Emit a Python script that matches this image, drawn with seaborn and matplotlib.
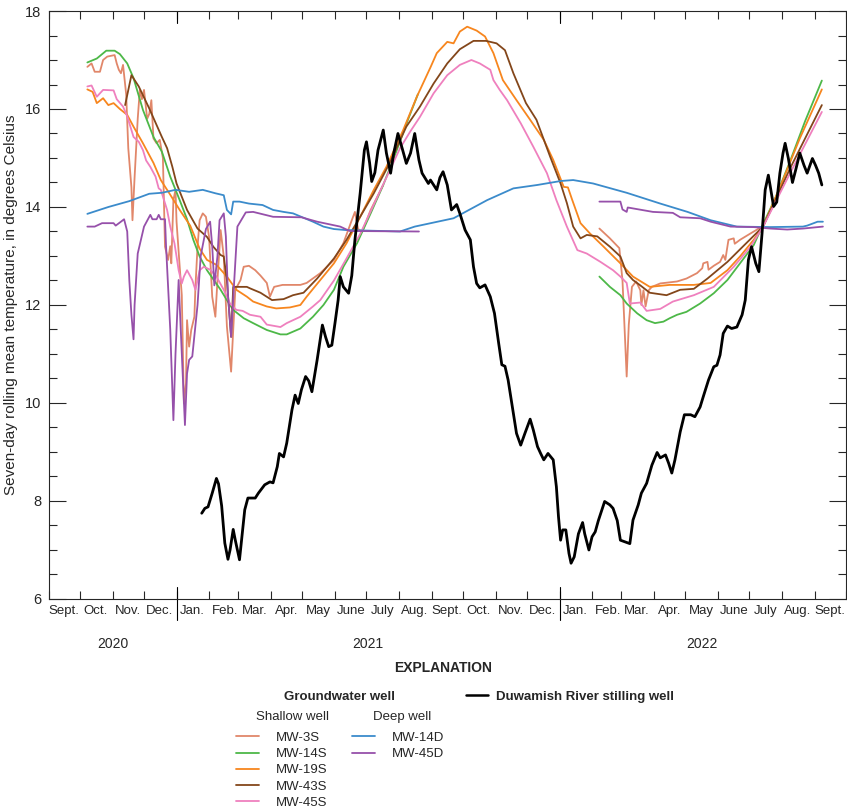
import matplotlib
matplotlib.use("Agg")
import matplotlib.pyplot as plt
import matplotlib.dates as mdates
from matplotlib.lines import Line2D
from matplotlib.ticker import MultipleLocator, FuncFormatter, NullFormatter
from matplotlib import font_manager
import pandas as pd
import seaborn as sns

# ---- MW-3S (shallow), two record periods
mw3s_dates_a = ["2020-10-08", "2020-10-12", "2020-10-15", "2020-10-20", "2020-10-23", "2020-10-27",
                "2020-11-03", "2020-11-05", "2020-11-07", "2020-11-09", "2020-11-11", "2020-11-14",
                "2020-11-16", "2020-11-19", "2020-11-20", "2020-11-22", "2020-11-25", "2020-11-27",
                "2020-11-29", "2020-12-01", "2020-12-04", "2020-12-06", "2020-12-08", "2020-12-10",
                "2020-12-13", "2020-12-16", "2020-12-19", "2020-12-21", "2020-12-24", "2020-12-26",
                "2020-12-27", "2020-12-29", "2020-12-31", "2021-01-01", "2021-01-04", "2021-01-06",
                "2021-01-08", "2021-01-10", "2021-01-11", "2021-01-13", "2021-01-15", "2021-01-18",
                "2021-01-19", "2021-01-21", "2021-01-23", "2021-01-26", "2021-01-29", "2021-02-01",
                "2021-02-04", "2021-02-07", "2021-02-09", "2021-02-12", "2021-02-15", "2021-02-18",
                "2021-02-22", "2021-02-24", "2021-02-26", "2021-03-03", "2021-03-06", "2021-03-11",
                "2021-03-17", "2021-03-22", "2021-03-28", "2021-03-31", "2021-04-04", "2021-04-12",
                "2021-04-29", "2021-05-05", "2021-05-18", "2021-05-31", "2021-06-09", "2021-06-17",
                "2021-06-20", "2021-06-23", "2021-06-27", "2021-07-05", "2021-07-17"]
mw3s_temp_a = [16.86, 16.93, 16.76, 16.76, 17.00, 17.07,
               17.10, 16.93, 16.80, 16.73, 16.90, 16.30,
               15.20, 14.40, 13.73, 14.60, 15.80, 16.39,
               16.20, 16.39, 15.80, 15.90, 16.18, 15.40,
               15.30, 15.37, 15.00, 13.19, 12.92, 13.20,
               12.85, 14.14, 14.35, 13.70, 12.78, 12.20,
               9.99, 10.40, 11.69, 11.15, 11.49, 11.76,
               12.37, 13.19, 13.73, 13.87, 13.80, 13.39,
               12.17, 11.76, 12.51, 13.53, 12.99, 11.56,
               10.64, 11.49, 12.31, 12.51, 12.78, 12.80,
               12.71, 12.60, 12.45, 12.17, 12.37, 12.41,
               12.41, 12.45, 12.65, 12.92, 13.26, 13.73,
               13.90, 13.55, 13.50, 13.94, 14.45]
mw3s_dates_b = ["2022-02-08", "2022-02-18", "2022-02-27", "2022-03-02", "2022-03-06", "2022-03-08",
                "2022-03-11", "2022-03-15", "2022-03-19", "2022-03-20", "2022-03-22", "2022-03-24",
                "2022-03-27", "2022-03-30", "2022-04-07", "2022-04-23", "2022-05-02", "2022-05-12",
                "2022-05-17", "2022-05-18", "2022-05-22", "2022-05-23", "2022-05-28", "2022-06-03",
                "2022-06-06", "2022-06-08", "2022-06-11", "2022-06-16", "2022-06-17", "2022-06-22",
                "2022-07-02", "2022-07-13", "2022-07-23"]
mw3s_temp_b = [13.56, 13.36, 13.16, 12.50, 10.54, 11.60,
               12.37, 12.48, 12.30, 12.00, 12.30, 11.97,
               12.30, 12.37, 12.44, 12.48, 12.54, 12.65,
               12.75, 12.85, 12.88, 12.72, 12.80, 12.88,
               13.02, 12.92, 13.33, 13.36, 13.25, 13.33,
               13.46, 13.60, 14.00]

# ---- MW-14S (shallow), two record periods
mw14s_dates_a = ["2020-10-08", "2020-10-17", "2020-10-26", "2020-11-03", "2020-11-08", "2020-11-15",
                 "2020-11-21", "2020-11-30", "2020-12-10", "2020-12-18", "2020-12-26", "2021-01-04",
                 "2021-01-11", "2021-01-17", "2021-01-23", "2021-01-30", "2021-02-12", "2021-02-18",
                 "2021-02-24", "2021-03-06", "2021-03-15", "2021-03-28", "2021-04-10", "2021-04-16",
                 "2021-04-29", "2021-05-11", "2021-05-21", "2021-05-31", "2021-06-09", "2021-06-22",
                 "2021-07-05", "2021-07-17", "2021-07-28", "2021-08-09", "2021-08-19"]
mw14s_temp_a = [16.95, 17.03, 17.19, 17.19, 17.12, 16.93,
                16.63, 15.98, 15.43, 15.13, 14.62, 14.14,
                13.75, 13.33, 12.99, 12.71, 12.31, 12.10,
                11.90, 11.73, 11.63, 11.49, 11.40, 11.40,
                11.52, 11.76, 12.00, 12.31, 12.78, 13.26,
                13.87, 14.45, 15.05, 15.75, 16.30]
mw14s_dates_b = ["2022-02-08", "2022-02-18", "2022-02-28", "2022-03-06", "2022-03-16", "2022-03-25",
                 "2022-04-02", "2022-04-10", "2022-04-16", "2022-04-23", "2022-05-02", "2022-05-15",
                 "2022-05-28", "2022-06-10", "2022-06-22", "2022-07-05", "2022-07-13", "2022-07-26",
                 "2022-08-09", "2022-08-23", "2022-09-08"]
mw14s_temp_b = [12.58, 12.37, 12.20, 12.03, 11.83, 11.69,
                11.63, 11.66, 11.73, 11.80, 11.86, 12.03,
                12.24, 12.51, 12.85, 13.22, 13.60, 14.20,
                14.95, 15.75, 16.58]

# ---- MW-19S (shallow)
mw19s_dates = ["2020-10-08", "2020-10-13", "2020-10-17", "2020-10-23", "2020-10-28", "2020-11-02",
               "2020-11-08", "2020-11-15", "2020-11-21", "2020-11-30", "2020-12-10", "2020-12-17",
               "2020-12-26", "2021-01-04", "2021-01-14", "2021-01-23", "2021-01-30", "2021-02-08",
               "2021-02-18", "2021-02-27", "2021-03-09", "2021-03-15", "2021-03-28", "2021-04-06",
               "2021-04-19", "2021-04-29", "2021-05-05", "2021-05-18", "2021-05-31", "2021-06-12",
               "2021-06-25", "2021-07-08", "2021-07-20", "2021-08-05", "2021-08-18", "2021-08-31",
               "2021-09-06", "2021-09-16", "2021-09-22", "2021-09-28", "2021-10-05", "2021-10-14",
               "2021-10-22", "2021-10-30", "2021-11-08", "2021-11-21", "2021-12-04", "2021-12-17",
               "2021-12-26", "2022-01-05", "2022-01-09", "2022-01-13", "2022-01-21", "2022-01-30",
               "2022-02-12", "2022-02-28", "2022-03-12", "2022-03-28", "2022-04-16", "2022-05-09",
               "2022-05-25", "2022-06-10", "2022-06-22", "2022-07-05", "2022-07-14", "2022-07-31",
               "2022-08-18", "2022-09-08"]
mw19s_temp = [16.40, 16.35, 16.12, 16.22, 16.08, 16.12,
              16.00, 15.88, 15.64, 15.30, 14.90, 14.55,
              14.25, 13.94, 13.62, 13.15, 12.92, 12.82,
              12.58, 12.31, 12.17, 12.07, 11.97, 11.93,
              11.95, 12.00, 12.17, 12.51, 12.85, 13.26,
              13.80, 14.35, 14.82, 15.57, 16.25, 16.85,
              17.14, 17.37, 17.34, 17.58, 17.68, 17.60,
              17.48, 17.14, 16.59, 16.18, 15.78, 15.37,
              14.96, 14.41, 14.40, 14.15, 13.67, 13.46,
              13.19, 12.85, 12.58, 12.37, 12.41, 12.41,
              12.45, 12.71, 12.99, 13.33, 13.60, 14.45,
              15.40, 16.40]

# ---- MW-43S (shallow)
mw43s_dates = ["2020-11-13", "2020-11-19", "2020-11-26", "2020-12-06", "2020-12-18", "2020-12-23",
               "2020-12-28", "2021-01-01", "2021-01-11", "2021-01-21", "2021-01-30", "2021-02-05",
               "2021-02-12", "2021-02-15", "2021-02-18", "2021-02-22", "2021-02-24", "2021-03-09",
               "2021-03-12", "2021-03-22", "2021-04-02", "2021-04-13", "2021-04-22", "2021-05-02",
               "2021-05-15", "2021-05-31", "2021-06-12", "2021-06-25", "2021-07-08", "2021-07-23",
               "2021-08-08", "2021-08-21", "2021-09-03", "2021-09-16", "2021-09-28", "2021-10-11",
               "2021-10-23", "2021-11-02", "2021-11-10", "2021-11-18", "2021-11-30", "2021-12-10",
               "2021-12-23", "2022-01-02", "2022-01-08", "2022-01-14", "2022-01-21", "2022-01-27",
               "2022-02-06", "2022-02-18", "2022-02-28", "2022-03-06", "2022-03-12", "2022-03-19",
               "2022-03-28", "2022-04-13", "2022-04-26", "2022-05-09", "2022-05-22", "2022-06-10",
               "2022-06-26", "2022-07-14", "2022-08-09", "2022-09-08"]
mw43s_temp = [16.08, 16.69, 16.46, 16.01, 15.43, 15.20,
              14.82, 14.48, 13.94, 13.56, 13.39, 13.19,
              13.02, 12.99, 12.50, 11.35, 12.37, 12.37,
              12.34, 12.25, 12.10, 12.12, 12.20, 12.25,
              12.54, 12.95, 13.33, 13.80, 14.28, 14.89,
              15.64, 16.05, 16.52, 16.93, 17.22, 17.39,
              17.39, 17.34, 17.20, 16.73, 16.12, 15.78,
              15.03, 14.48, 14.08, 13.60, 13.36, 13.43,
              13.40, 13.19, 12.99, 12.65, 12.51, 12.40,
              12.25, 12.20, 12.31, 12.33, 12.54, 12.88,
              13.22, 13.60, 14.80, 16.08]

# ---- MW-45S (shallow)
mw45s_dates = ["2020-10-08", "2020-10-12", "2020-10-17", "2020-10-23", "2020-11-02", "2020-11-05",
               "2020-11-11", "2020-11-15", "2020-11-21", "2020-11-26", "2020-11-30", "2020-12-03",
               "2020-12-07", "2020-12-12", "2020-12-15", "2020-12-17", "2020-12-23", "2020-12-26",
               "2020-12-30", "2021-01-01", "2021-01-03", "2021-01-06", "2021-01-08", "2021-01-11",
               "2021-01-16", "2021-01-19", "2021-01-23", "2021-01-27", "2021-02-02", "2021-02-08",
               "2021-02-15", "2021-02-21", "2021-02-27", "2021-03-05", "2021-03-12", "2021-03-22",
               "2021-03-28", "2021-04-10", "2021-04-16", "2021-04-29", "2021-05-11", "2021-05-18",
               "2021-05-31", "2021-06-12", "2021-06-25", "2021-07-08", "2021-07-20", "2021-08-02",
               "2021-08-12", "2021-08-21", "2021-09-03", "2021-09-16", "2021-09-28", "2021-10-09",
               "2021-10-17", "2021-10-27", "2021-10-30", "2021-11-05", "2021-11-12", "2021-11-25",
               "2021-12-07", "2021-12-20", "2021-12-29", "2022-01-08", "2022-01-18", "2022-01-27",
               "2022-02-09", "2022-02-21", "2022-02-28", "2022-03-06", "2022-03-09", "2022-03-19",
               "2022-03-25", "2022-04-07", "2022-04-19", "2022-05-09", "2022-05-28", "2022-06-16",
               "2022-07-02", "2022-07-14", "2022-08-09", "2022-09-08"]
mw45s_temp = [16.46, 16.48, 16.25, 16.39, 16.38, 16.20,
              16.05, 15.85, 15.43, 15.33, 15.16, 14.95,
              14.82, 14.62, 14.38, 14.35, 13.94, 13.60,
              13.26, 12.99, 12.71, 12.44, 12.58, 12.71,
              12.51, 12.31, 12.71, 12.78, 12.72, 12.58,
              12.31, 12.03, 11.90, 11.88, 11.80, 11.76,
              11.60, 11.55, 11.63, 11.76, 11.97, 12.10,
              12.50, 12.95, 13.45, 14.05, 14.60, 15.20,
              15.55, 15.84, 16.32, 16.69, 16.90, 17.00,
              16.93, 16.80, 16.59, 16.39, 16.18, 15.71,
              15.23, 14.69, 14.14, 13.60, 13.12, 13.05,
              12.88, 12.71, 12.58, 12.45, 12.03, 12.05,
              11.88, 11.92, 12.07, 12.20, 12.37, 12.78,
              13.19, 13.60, 14.70, 15.94]

# ---- MW-14D (deep)
mw14d_dates = ["2020-10-08", "2020-10-28", "2020-11-17", "2020-12-06", "2020-12-18", "2020-12-31",
               "2021-01-13", "2021-01-26", "2021-02-07", "2021-02-15", "2021-02-18", "2021-02-22",
               "2021-02-24", "2021-03-02", "2021-03-11", "2021-03-24", "2021-04-03", "2021-04-13",
               "2021-04-22", "2021-05-11", "2021-05-21", "2021-05-31", "2021-06-11", "2021-08-02",
               "2021-08-16", "2021-09-22", "2021-10-24", "2021-11-18", "2021-12-11", "2022-01-02",
               "2022-01-14", "2022-02-02", "2022-03-06", "2022-04-07", "2022-05-03", "2022-05-25",
               "2022-06-19", "2022-07-21", "2022-08-21", "2022-08-25", "2022-09-04", "2022-09-09"]
mw14d_temp = [13.86, 14.00, 14.12, 14.27, 14.29, 14.35,
              14.31, 14.35, 14.28, 14.24, 13.94, 13.85,
              14.11, 14.11, 14.07, 14.04, 13.94, 13.90,
              13.87, 13.70, 13.60, 13.55, 13.53, 13.50,
              13.60, 13.77, 14.14, 14.38, 14.45, 14.53,
              14.55, 14.48, 14.29, 14.07, 13.90, 13.73,
              13.60, 13.59, 13.60, 13.62, 13.70, 13.70]

# ---- MW-45D (deep), two record periods
mw45d_dates_a = ["2020-10-08", "2020-10-15", "2020-10-22", "2020-11-02", "2020-11-04", "2020-11-09",
                 "2020-11-12", "2020-11-15", "2020-11-17", "2020-11-19", "2020-11-21", "2020-11-22",
                 "2020-11-25", "2020-12-01", "2020-12-07", "2020-12-09", "2020-12-13", "2020-12-15",
                 "2020-12-17", "2020-12-21", "2020-12-22", "2020-12-26", "2020-12-29", "2020-12-31",
                 "2021-01-03", "2021-01-05", "2021-01-09", "2021-01-11", "2021-01-13", "2021-01-16",
                 "2021-01-21", "2021-01-24", "2021-01-29", "2021-02-02", "2021-02-04", "2021-02-06",
                 "2021-02-09", "2021-02-11", "2021-02-15", "2021-02-17", "2021-02-19", "2021-02-22",
                 "2021-02-25", "2021-02-28", "2021-03-08", "2021-03-15", "2021-04-03", "2021-04-30",
                 "2021-05-15", "2021-06-06", "2021-06-15", "2021-08-20"]
mw45d_temp_a = [13.60, 13.60, 13.67, 13.67, 13.62, 13.70,
                13.75, 13.50, 12.50, 11.80, 11.30, 12.00,
                13.05, 13.60, 13.84, 13.75, 13.75, 13.84,
                13.75, 13.75, 13.20, 11.50, 9.65, 11.00,
                12.51, 11.50, 9.55, 10.60, 10.88, 10.95,
                12.00, 13.00, 13.55, 13.70, 13.20, 12.40,
                13.00, 13.73, 13.87, 13.40, 12.20, 11.35,
                12.50, 13.60, 13.89, 13.90, 13.80, 13.79,
                13.70, 13.60, 13.51, 13.50]
mw45d_dates_b = ["2022-02-08", "2022-02-28", "2022-03-02", "2022-03-06", "2022-03-07", "2022-03-31",
                 "2022-04-19", "2022-04-26", "2022-05-15", "2022-05-25", "2022-06-13", "2022-07-05",
                 "2022-07-21", "2022-08-06", "2022-08-21", "2022-09-09"]
mw45d_temp_b = [14.11, 14.11, 13.95, 13.90, 13.99, 13.90,
                13.88, 13.79, 13.77, 13.70, 13.60, 13.59,
                13.56, 13.54, 13.56, 13.60]

# ---- Duwamish River stilling well
river_dates = ["2021-01-25", "2021-01-28", "2021-01-31", "2021-02-04", "2021-02-08", "2021-02-10",
               "2021-02-13", "2021-02-16", "2021-02-19", "2021-02-21", "2021-02-24", "2021-02-26",
               "2021-03-02", "2021-03-04", "2021-03-07", "2021-03-10", "2021-03-17", "2021-03-20",
               "2021-03-26", "2021-03-31", "2021-04-03", "2021-04-07", "2021-04-09", "2021-04-13",
               "2021-04-16", "2021-04-21", "2021-04-24", "2021-04-27", "2021-04-30", "2021-05-04",
               "2021-05-07", "2021-05-10", "2021-05-15", "2021-05-20", "2021-05-23", "2021-05-26",
               "2021-05-29", "2021-06-01", "2021-06-04", "2021-06-06", "2021-06-09", "2021-06-14",
               "2021-06-17", "2021-06-20", "2021-06-25", "2021-06-29", "2021-07-01", "2021-07-04",
               "2021-07-06", "2021-07-09", "2021-07-12", "2021-07-17", "2021-07-20", "2021-07-24",
               "2021-07-27", "2021-07-31", "2021-08-04", "2021-08-08", "2021-08-12", "2021-08-16",
               "2021-08-20", "2021-08-23", "2021-08-29", "2021-08-31", "2021-09-06", "2021-09-09",
               "2021-09-12", "2021-09-16", "2021-09-20", "2021-09-25", "2021-09-28", "2021-10-03",
               "2021-10-08", "2021-10-11", "2021-10-14", "2021-10-17", "2021-10-22", "2021-10-27",
               "2021-10-31", "2021-11-04", "2021-11-07", "2021-11-10", "2021-11-13", "2021-11-17",
               "2021-11-21", "2021-11-25", "2021-11-29", "2021-12-04", "2021-12-07", "2021-12-11",
               "2021-12-14", "2021-12-17", "2021-12-21", "2021-12-26", "2021-12-29", "2021-12-31",
               "2022-01-02", "2022-01-04", "2022-01-07", "2022-01-10", "2022-01-12", "2022-01-15",
               "2022-01-19", "2022-01-23", "2022-01-25", "2022-01-29", "2022-02-01", "2022-02-04",
               "2022-02-07", "2022-02-13", "2022-02-18", "2022-02-21", "2022-02-25", "2022-02-28",
               "2022-03-05", "2022-03-09", "2022-03-12", "2022-03-17", "2022-03-20", "2022-03-25",
               "2022-03-30", "2022-04-04", "2022-04-07", "2022-04-12", "2022-04-15", "2022-04-18",
               "2022-04-21", "2022-04-26", "2022-04-30", "2022-05-06", "2022-05-10", "2022-05-15",
               "2022-05-18", "2022-05-23", "2022-05-28", "2022-05-31", "2022-06-03", "2022-06-06",
               "2022-06-10", "2022-06-14", "2022-06-19", "2022-06-24", "2022-06-27", "2022-06-30",
               "2022-07-03", "2022-07-07", "2022-07-10", "2022-07-13", "2022-07-16", "2022-07-19",
               "2022-07-21", "2022-07-24", "2022-07-27", "2022-07-30", "2022-08-02", "2022-08-04",
               "2022-08-07", "2022-08-11", "2022-08-14", "2022-08-18", "2022-08-22", "2022-08-25",
               "2022-08-30", "2022-09-02", "2022-09-05", "2022-09-08"]
river_temp = [7.75, 7.85, 7.88, 8.16, 8.46, 8.35,
              7.90, 7.14, 6.81, 7.00, 7.42, 7.20,
              6.80, 7.20, 7.82, 8.06, 8.06, 8.16,
              8.33, 8.39, 8.37, 8.70, 8.97, 8.90,
              9.18, 9.86, 10.16, 9.99, 10.27, 10.54,
              10.45, 10.23, 10.88, 11.59, 11.35, 11.15,
              11.18, 11.63, 12.10, 12.58, 12.37, 12.24,
              12.60, 13.33, 14.28, 15.16, 15.33, 14.90,
              14.52, 14.70, 15.16, 15.57, 15.10, 14.69,
              15.10, 15.50, 15.20, 14.89, 15.10, 15.50,
              14.96, 14.69, 14.48, 14.55, 14.35, 14.60,
              14.72, 14.45, 13.94, 14.05, 13.87, 13.53,
              13.33, 12.78, 12.44, 12.35, 12.41, 12.17,
              11.83, 11.22, 10.78, 10.75, 10.47, 9.92,
              9.38, 9.14, 9.38, 9.67, 9.45, 9.11,
              8.97, 8.84, 8.97, 8.84, 8.29, 7.68,
              7.20, 7.41, 7.41, 6.93, 6.73, 6.86,
              7.33, 7.56, 7.33, 7.00, 7.27, 7.37,
              7.60, 7.99, 7.92, 7.85, 7.60, 7.20,
              7.16, 7.13, 7.61, 7.92, 8.16, 8.36,
              8.73, 8.99, 8.88, 8.94, 8.77, 8.57,
              8.84, 9.41, 9.76, 9.76, 9.72, 9.92,
              10.13, 10.47, 10.74, 10.77, 10.98, 11.42,
              11.57, 11.52, 11.55, 11.80, 12.10, 12.92,
              13.19, 12.85, 12.68, 13.46, 14.35, 14.65,
              14.40, 14.01, 14.10, 14.69, 15.10, 15.30,
              15.00, 14.50, 14.75, 15.10, 14.85, 14.69,
              14.99, 14.85, 14.69, 14.45]

month_names = ["Jan.", "Feb.", "Mar.", "Apr.", "May", "June",
               "July", "Aug.", "Sept.", "Oct.", "Nov.", "Dec."]
years = ["2020", "2021", "2022"]
year_centers = ["2020-11-01", "2021-07-02", "2022-05-17"]

colors = {
    "MW-3S": "#E1876A", "MW-14S": "#4DB848", "MW-19S": "#F7861E", "MW-43S": "#83461A",
    "MW-45S": "#EF80BE", "MW-14D": "#3B8BCB", "MW-45D": "#9650AA",
}
river_color = "black"

sns.set_theme(style="ticks")
# narrow type if available, otherwise a plain sans
names = {f.name for f in font_manager.fontManager.ttflist}
if "Liberation Sans Narrow" in names:
    plt.rcParams["font.family"] = ["Liberation Sans Narrow", "DejaVu Sans"]
    fs = 10.5
else:
    plt.rcParams["font.family"] = ["Liberation Sans", "DejaVu Sans"]
    fs = 9.5
plt.rcParams["axes.linewidth"] = 0.8

fig = plt.figure(figsize=(8.47, 8.09), dpi=100)
ax = fig.add_axes([0.0573, 0.2596, 0.9415, 0.7268])

series = [
    ("MW-3S", [(mw3s_dates_a, mw3s_temp_a), (mw3s_dates_b, mw3s_temp_b)]),
    ("MW-14S", [(mw14s_dates_a, mw14s_temp_a), (mw14s_dates_b, mw14s_temp_b)]),
    ("MW-19S", [(mw19s_dates, mw19s_temp)]),
    ("MW-43S", [(mw43s_dates, mw43s_temp)]),
    ("MW-45S", [(mw45s_dates, mw45s_temp)]),
    ("MW-14D", [(mw14d_dates, mw14d_temp)]),
    ("MW-45D", [(mw45d_dates_a, mw45d_temp_a), (mw45d_dates_b, mw45d_temp_b)]),
]
for name, parts in series:
    for d, t in parts:
        sns.lineplot(x=pd.to_datetime(d), y=t, ax=ax, color=colors[name], lw=1.3,
                     estimator=None, sort=False, legend=False)

sns.lineplot(x=pd.to_datetime(river_dates), y=river_temp, ax=ax, color=river_color,
             lw=2.0, estimator=None, sort=False, legend=False)

# axes limits and ticks
ax.set_xlim(pd.Timestamp("2020-09-01"), pd.Timestamp("2022-10-01"))
ax.set_ylim(6, 18)
ax.yaxis.set_major_locator(MultipleLocator(2))
ax.yaxis.set_minor_locator(MultipleLocator(0.5))
ax.tick_params(axis="y", which="major", direction="in", length=12, width=0.8,
               left=True, right=True, labelsize=fs + 1, pad=5)
ax.tick_params(axis="y", which="minor", direction="in", length=6, width=0.8,
               left=True, right=True)

ax.xaxis.set_major_locator(mdates.MonthLocator())
ax.xaxis.set_major_formatter(NullFormatter())
ax.xaxis.set_minor_locator(mdates.MonthLocator(bymonthday=16))
ax.xaxis.set_minor_formatter(FuncFormatter(lambda v, p: month_names[mdates.num2date(v).month - 1]))
ax.tick_params(axis="x", which="major", direction="in", length=6, width=0.8,
               top=True, bottom=True)
ax.tick_params(axis="x", which="minor", length=0, labelsize=fs, pad=4)

# year separators
for jan in ["2021-01-01", "2022-01-01"]:
    ax.axvline(pd.Timestamp(jan), ymin=-0.036, ymax=0.0204, color="black", lw=0.8, clip_on=False)
    ax.axvline(pd.Timestamp(jan), ymin=0.9796, ymax=1.0, color="black", lw=0.8, clip_on=False)

for yr, c in zip(years, year_centers):
    ax.text(pd.Timestamp(c), -0.076, yr, transform=ax.get_xaxis_transform(),
            ha="center", va="center", fontsize=fs + 0.5)

ax.set_xlabel("")
ax.set_ylabel("Seven-day rolling mean temperature, in degrees Celsius", fontsize=fs + 1.5, labelpad=5)

# explanation
fig.text(0.523, 0.174, "EXPLANATION", ha="center", va="center", fontsize=fs + 0.5, fontweight="bold")
fig.text(0.4014, 0.1384, "Groundwater well", ha="center", va="center", fontsize=fs, fontweight="bold")
fig.text(0.3459, 0.1137, "Shallow well", ha="center", va="center", fontsize=fs)
fig.text(0.4746, 0.1137, "Deep well", ha="center", va="center", fontsize=fs)

shallow = ["MW-3S", "MW-14S", "MW-19S", "MW-43S", "MW-45S"]
deep = ["MW-14D", "MW-45D"]
common = dict(frameon=False, loc="upper left", borderpad=0, borderaxespad=0,
              handlelength=1.75, handletextpad=1.3, labelspacing=0.3, fontsize=fs)
fig.legend([Line2D([], [], color=colors[n], lw=1.3) for n in shallow], shallow,
           bbox_to_anchor=(0.2786, 0.0955), **common)
fig.legend([Line2D([], [], color=colors[n], lw=1.3) for n in deep], deep,
           bbox_to_anchor=(0.4156, 0.0955), **common)
leg = fig.legend([Line2D([], [], color=river_color, lw=1.8)], ["Duwamish River stilling well"],
                 bbox_to_anchor=(0.5502, 0.1465), frameon=False, loc="upper left", borderpad=0,
                 borderaxespad=0, handlelength=1.65, handletextpad=0.6, fontsize=fs)
for t in leg.get_texts():
    t.set_fontweight("bold")

fig.savefig("out.png", dpi=100)
